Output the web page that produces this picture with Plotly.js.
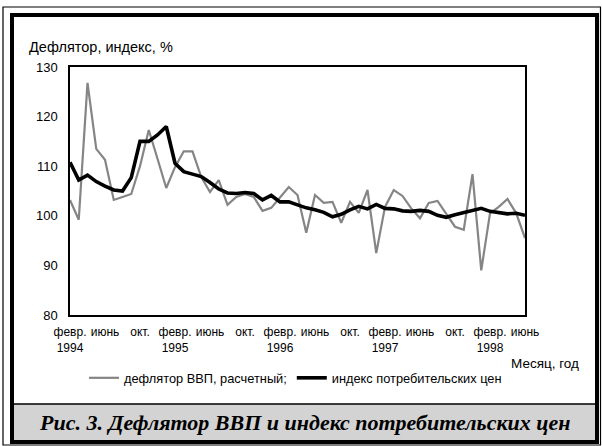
<!DOCTYPE html>
<html>
<head>
<meta charset="utf-8">
<script src="https://cdn.plot.ly/plotly-3.0.1.min.js"></script>
<style>
  html, body { margin: 0; padding: 0; background: #ffffff; }
  #chart { width: 602px; height: 446px; }
</style>
</head>
<body>
<div id="chart"></div>
<script>
// ---- data ----
const months = [
  "1994-02","1994-03","1994-04","1994-05","1994-06","1994-07","1994-08","1994-09","1994-10","1994-11","1994-12",
  "1995-01","1995-02","1995-03","1995-04","1995-05","1995-06","1995-07","1995-08","1995-09","1995-10","1995-11","1995-12",
  "1996-01","1996-02","1996-03","1996-04","1996-05","1996-06","1996-07","1996-08","1996-09","1996-10","1996-11","1996-12",
  "1997-01","1997-02","1997-03","1997-04","1997-05","1997-06","1997-07","1997-08","1997-09","1997-10","1997-11","1997-12",
  "1998-01","1998-02","1998-03","1998-04","1998-05","1998-06"
];

// GDP deflator, estimated (grey line), % to previous month
const deflator = [
  103.2, 99.2, 126.8, 113.5, 111.3, 103.2, 103.8, 104.4, 110.0, 117.3, 111.5,
  105.6, 109.8, 113.0, 113.0, 107.8, 104.8, 107.2, 102.2, 103.8, 104.4, 103.8, 101.0,
  101.6, 103.7, 105.8, 104.2, 96.6, 104.2, 102.6, 102.8, 98.6, 102.8, 100.6, 105.2,
  92.5, 101.8, 105.2, 104.0, 101.5, 99.5, 102.6, 103.0, 100.5, 97.8, 97.2, 108.4,
  89.0, 100.5, 101.8, 103.4, 100.5, 95.5
];

// Consumer price index (black line), % to previous month
const cpi = [
  110.8, 107.2, 108.2, 106.9, 106.0, 105.2, 105.0, 107.7, 115.0, 115.0, 116.3,
  118.0, 110.6, 108.9, 108.4, 107.9, 106.7, 105.4, 104.6, 104.5, 104.7, 104.5, 103.2,
  104.1, 102.8, 102.8, 102.2, 101.6, 101.2, 100.7, 99.8, 100.3, 101.2, 101.9, 101.4,
  102.3, 101.5, 101.4, 101.0, 100.9, 101.1, 100.9, 100.1, 99.7, 100.2, 100.6, 101.0,
  101.5, 100.9, 100.6, 100.4, 100.5, 100.1
];

const tickMonths = [
  "1994-02","1994-06","1994-10","1995-02","1995-06","1995-10","1996-02",
  "1996-06","1996-10","1997-02","1997-06","1997-10","1998-02","1998-06"
];
const tickLabels = [
  "февр.<br>1994","июнь","окт.","февр.<br>1995","июнь","окт.","февр.<br>1996",
  "июнь","окт.","февр.<br>1997","июнь","окт.","февр.<br>1998","июнь"
];
const yTicks = [80, 90, 100, 110, 120, 130];

const seriesNames = ["дефлятор ВВП, расчетный;", "индекс потребительских цен"];
const titleText = "Дефлятор, индекс, %";
const xTitleText = "Месяц, год";
const captionText = "Рис. 3. Дефлятор ВВП и индекс потребительских цен";

// ---- layout helpers: pixel -> paper coordinates ----
const W = 602, H = 446;
const M = { l: 70, r: 77, t: 67, b: 131 };
const PW = W - M.l - M.r, PH = H - M.t - M.b;
const px = x => (x - M.l) / PW;
const py = y => (H - M.b - y) / PH;

const sans = "Liberation Sans, Arial, sans-serif";

const traces = [
  {
    x: months, y: deflator, type: "scatter", mode: "lines",
    name: seriesNames[0],
    line: { color: "#858585", width: 2.2 }
  },
  {
    x: months, y: cpi, type: "scatter", mode: "lines",
    name: seriesNames[1],
    line: { color: "#000000", width: 3.6 }
  }
];

const layout = {
  width: W, height: H,
  margin: M,
  paper_bgcolor: "#ffffff",
  plot_bgcolor: "#ffffff",
  font: { family: sans, color: "#000", size: 12 },
  showlegend: true,
  title: {
    text: titleText,
    font: { family: sans, size: 14.5, color: "#000" },
    x: 29 / W, xanchor: "left",
    y: 1 - 47 / H, yanchor: "middle"
  },
  xaxis: {
    type: "category",
    range: [0, months.length - 1],
    tickmode: "array",
    tickvals: tickMonths,
    ticktext: tickLabels,
    tickangle: 0,
    ticks: "",
    ticklabelstandoff: 5,
    tickfont: { family: sans, size: 12, color: "#000" },
    showgrid: false, zeroline: false,
    showline: true, linecolor: "#000", linewidth: 1.6, mirror: true
  },
  yaxis: {
    range: [80, 130],
    tickmode: "array",
    tickvals: yTicks,
    ticks: "",
    ticklabelstandoff: 8,
    tickfont: { family: sans, size: 13, color: "#000" },
    showgrid: false, zeroline: false,
    showline: true, linecolor: "#000", linewidth: 1.6, mirror: true
  },
  legend: {
    orientation: "h",
    x: px(84), xanchor: "left",
    y: py(378), yanchor: "middle",
    font: { family: sans, size: 12.8, color: "#000" },
    bgcolor: "rgba(0,0,0,0)",
    itemwidth: 30,
    traceorder: "normal"
  },
  annotations: [
    {
      text: xTitleText, xref: "paper", yref: "paper",
      x: px(581), xanchor: "right", y: py(363), yanchor: "middle",
      showarrow: false, font: { family: sans, size: 13.5, color: "#000" }
    },
    {
      text: "<b><i>" + captionText + "</i></b>", xref: "paper", yref: "paper",
      x: px(305), xanchor: "center", y: py(422), yanchor: "middle",
      showarrow: false,
      font: { family: "Liberation Serif, Times New Roman, serif", size: 22, color: "#000" }
    }
  ],
  shapes: [
    // caption band
    { type: "rect", xref: "paper", yref: "paper", layer: "below",
      x0: px(12), x1: px(597), y0: py(404), y1: py(442),
      fillcolor: "#d3d3d3", line: { color: "#000", width: 1.5 } },
    // outer thin frame
    { type: "rect", xref: "paper", yref: "paper",
      x0: px(3), x1: px(600.5), y0: py(7), y1: py(445),
      line: { color: "#000", width: 1.2 } },
    // inner thick frame
    { type: "rect", xref: "paper", yref: "paper",
      x0: px(12), x1: px(597), y0: py(15), y1: py(442),
      line: { color: "#000", width: 4 } }
  ]
};

Plotly.newPlot("chart", traces, layout, { displayModeBar: false, staticPlot: true });
</script>
</body>
</html>
